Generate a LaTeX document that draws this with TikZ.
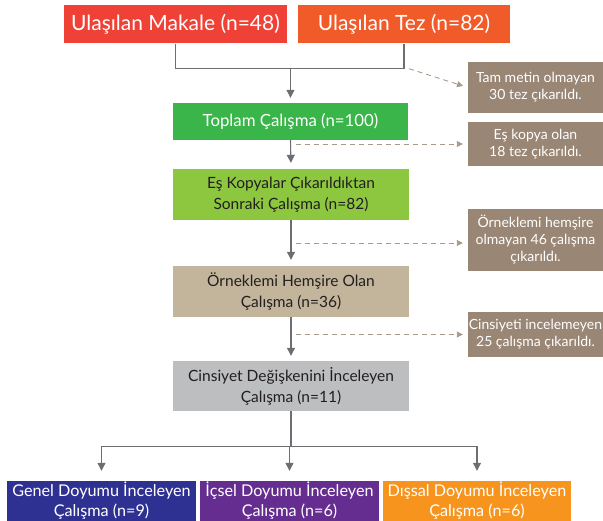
\documentclass[tikz,border=0pt]{standalone}
\usepackage{fontspec}
\setmainfont{Lato}
\usetikzlibrary{arrows.meta,calc}
\definecolor{cMak}{HTML}{EF4136}
\definecolor{cTez}{HTML}{F15A29}
\definecolor{cTot}{HTML}{39B54A}
\definecolor{cKop}{HTML}{8DC63F}
\definecolor{cOrn}{HTML}{C2B59B}
\definecolor{cCin}{HTML}{BCBEC0}
\definecolor{cGen}{HTML}{2E3192}
\definecolor{cIcs}{HTML}{662D91}
\definecolor{cDis}{HTML}{F7941D}
\definecolor{cSide}{HTML}{998675}
\definecolor{cLine}{HTML}{6D6E71}
\definecolor{cDash}{HTML}{A89A88}
\definecolor{cTxt}{HTML}{231F20}
\tikzset{
  box/.style={rectangle,inner sep=0pt,align=center,font=\fontsize{15.5}{21}\selectfont},
  topbox/.style={box,text=white,minimum height=38pt,font=\fontsize{21}{24}\selectfont},
  sidebox/.style={rectangle,inner sep=0pt,align=center,fill=cSide,text=white,minimum width=135pt,font=\fontsize{14}{17}\selectfont},
  arr/.style={draw=cLine,line width=1.1pt,-{Triangle[width=8pt,length=8pt]}},
  conn/.style={draw=cLine,line width=1.1pt},
  darr/.style={draw=cDash,line width=0.9pt,dash pattern=on 5pt off 4pt,-{Triangle[width=6pt,length=6pt]}}
}
\begin{document}
\begin{tikzpicture}[x=1pt,y=-1pt]
\useasboundingbox (0,0) rectangle (603,521);
\node[topbox,fill=cMak,minimum width=223pt] (mak) at (175.5,24.5) {Ulaşılan Makale (n=48)};
\node[topbox,fill=cTez,minimum width=212pt] (tez) at (404,24.5) {Ulaşılan Tez (n=82)};
\node[box,fill=cTot,text=white,minimum width=235pt,minimum height=37pt,font=\fontsize{16.8}{21}\selectfont] (tot) at (290.5,121.5) {Toplam Çalışma (n=100)};
\node[box,fill=cKop,text=cTxt,minimum width=236pt,minimum height=51pt] (kop) at (291,194.5) {Eş Kopyalar Çıkarıldıktan\\Sonraki Çalışma (n=82)};
\node[box,fill=cOrn,text=cTxt,minimum width=236pt,minimum height=51pt] (orn) at (291,291.5) {Örneklemi Hemşire Olan\\Çalışma (n=36)};
\node[box,fill=cCin,text=cTxt,minimum width=236pt,minimum height=50pt] (cin) at (291,386) {Cinsiyet Değişkenini İnceleyen\\Çalışma (n=11)};
\node[box,fill=cGen,text=white,minimum width=189pt,minimum height=40pt,font=\fontsize{16.2}{20}\selectfont] (gen) at (101.5,501) {Genel Doyumu İnceleyen\\Çalışma (n=9)};
\node[box,fill=cIcs,text=white,minimum width=179pt,minimum height=40pt,font=\fontsize{16.2}{20}\selectfont] (ics) at (289.5,501) {İçsel Doyumu İnceleyen\\Çalışma (n=6)};
\node[box,fill=cDis,text=white,minimum width=188pt,minimum height=40pt,font=\fontsize{16.2}{20}\selectfont] (dis) at (477,501) {Dışsal Doyumu İnceleyen\\Çalışma (n=6)};
\node[sidebox,minimum height=51pt] (s1) at (535.5,87.5) {Tam metin olmayan\\30 tez çıkarıldı.};
\node[sidebox,minimum height=44pt] (s2) at (535.5,144) {Eş kopya olan\\18 tez çıkarıldı.};
\node[sidebox,minimum height=62pt] (s3) at (535.5,240) {Örneklemi hemşire\\olmayan 46 çalışma\\çıkarıldı.};
\node[sidebox,minimum height=45pt] (s4) at (535.5,334.5) {Cinsiyeti incelemeyen\\25 çalışma çıkarıldı.};
% merge of top boxes
\coordinate (j) at ($(mak.south)+(0,25)$);
\draw[conn] (mak.south) -- (j) -| (tez.south);
\draw[arr,shorten >=5pt] (j -| tot.north) -- (tot.north);
\draw[darr,shorten >=5pt] ($(j -| tez.south)+(5,0)$) -- (s1.west);
% main chain
\draw[arr,shorten >=6pt] (tot.south) -- (kop.north);
\draw[arr,shorten >=6pt] (kop.south) -- (orn.north);
\draw[arr,shorten >=5pt] (orn.south) -- (cin.north);
\draw[darr,shorten >=5pt] ($(tot.south |- s2.west)+(5,0)$) -- (s2.west);
\draw[darr,shorten >=5pt] ($(kop.south |- 0,243)+(5,0)$) coordinate (d3) -- (d3 -| s3.west);
\draw[darr,shorten >=5pt] ($(orn.south |- s4.west)+(5,0)$) -- (s4.west);
% split
\coordinate (b) at ($(cin.south)+(0,35)$);
\draw[conn] (cin.south) -- (b);
\draw[conn] (b -| gen.north) -- (b -| dis.north);
\draw[arr,shorten >=10pt] (b -| gen.north) -- (gen.north);
\draw[arr,shorten >=10pt] (b -| ics.north) -- (ics.north);
\draw[arr,shorten >=10pt] (b -| dis.north) -- (dis.north);
\end{tikzpicture}
\end{document}
